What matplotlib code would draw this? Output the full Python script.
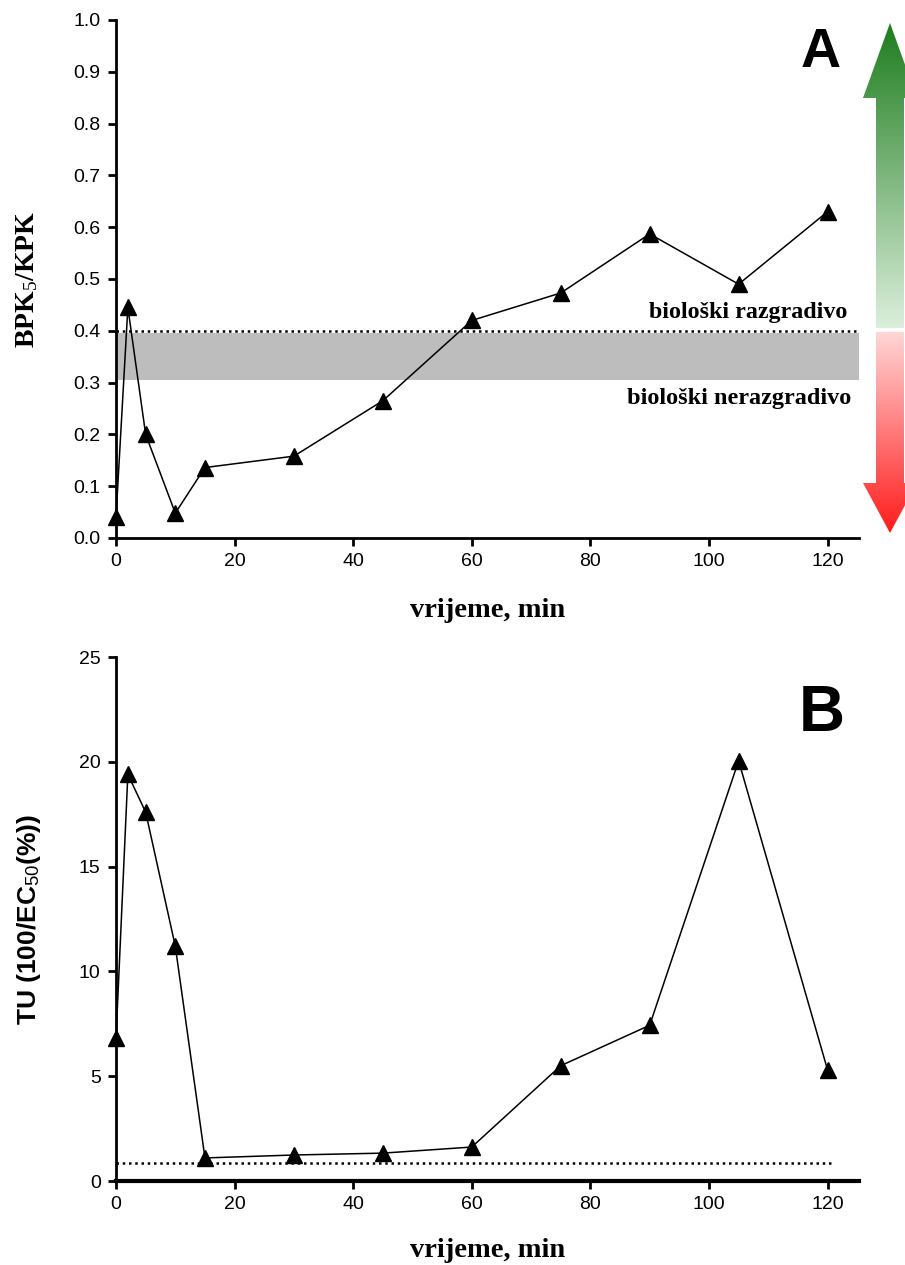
#!/usr/bin/env python3

import matplotlib
matplotlib.use("Agg")
import matplotlib.pyplot as plt
import numpy as np
from matplotlib.patches import Polygon

# data
vrijeme = [0, 2, 5, 10, 15, 30, 45, 60, 75, 90, 105, 120]
bpk_kpk = [0.04, 0.445, 0.20, 0.048, 0.136, 0.158, 0.265, 0.42, 0.473, 0.587, 0.49, 0.63]
tu = [6.8, 19.4, 17.6, 11.2, 1.1, 1.24, 1.33, 1.62, 5.5, 7.43, 20.05, 5.3]

granica_a = 0.40
pojas_a = (0.305, 0.395)
granica_b = 0.85

x_ticks = [0, 20, 40, 60, 80, 100, 120]
a_yticks = [0.0, 0.1, 0.2, 0.3, 0.4, 0.5, 0.6, 0.7, 0.8, 0.9, 1.0]
b_yticks = [0, 5, 10, 15, 20, 25]

serif = "Liberation Serif"
sans = "Liberation Sans"

plt.rcParams["mathtext.fontset"] = "custom"
plt.rcParams["mathtext.rm"] = serif
plt.rcParams["mathtext.it"] = serif + ":italic"
plt.rcParams["mathtext.sf"] = sans

W, H = 905, 1265
fig = plt.figure(figsize=(W / 100, H / 100), dpi=100)


def px_axes(left, top, right, bottom):
    return fig.add_axes([left / W, 1 - bottom / H, (right - left) / W, (bottom - top) / H])


def style_axes(ax, lw_bottom=2.0):
    for s in ["top", "right"]:
        ax.spines[s].set_visible(False)
    ax.spines["left"].set_linewidth(2.0)
    ax.spines["bottom"].set_linewidth(lw_bottom)
    ax.tick_params(direction="out", length=6, width=2, labelsize=14, pad=5)
    for lab in ax.get_xticklabels() + ax.get_yticklabels():
        lab.set_fontfamily(sans)


# ---------------- panel A ----------------
ax1 = px_axes(116, 20, 859, 538)
ax1.axhspan(pojas_a[0], pojas_a[1], color="#bdbdbd", lw=0, zorder=1)
ax1.axhline(granica_a, color="black", ls=(0, (1, 1.5)), lw=1.8, zorder=2)
ax1.plot(vrijeme, bpk_kpk, color="black", lw=1.1, marker="^", ms=12, zorder=3, clip_on=False)
ax1.set_xlim(0, 125.3)
ax1.set_ylim(0, 1.0)
ax1.set_xticks(x_ticks)
ax1.set_yticks(a_yticks)
ax1.set_yticklabels(["%.1f" % v for v in a_yticks])
style_axes(ax1)
ax1.set_xlabel("vrijeme, min", fontfamily=serif, fontweight="bold", fontsize=20.5, labelpad=20)
ax1.set_ylabel("BPK$_5$/KPK", fontfamily=serif, fontweight="bold", fontsize=20, labelpad=24)
ax1.text(0.985, 0.436, "biološki razgradivo", transform=ax1.transAxes, ha="right", va="center",
         fontfamily=serif, fontweight="bold", fontsize=17.3)
ax1.text(0.99, 0.27, "biološki nerazgradivo", transform=ax1.transAxes, ha="right", va="center",
         fontfamily=serif, fontweight="bold", fontsize=17.5)
ax1.text(0.948, 0.909, "A", transform=ax1.transAxes, ha="center", va="baseline",
         fontfamily=sans, fontweight="bold", fontsize=40)

# ---------------- gradient arrows ----------------
axa = px_axes(855, 15, 905, 545)
axa.set_xlim(855, 905)
axa.set_ylim(545, 15)
axa.axis("off")


def gradient_arrow(ax, tip, base, cx, c_tip, c_base):
    head = 75 if tip < base else -50
    hb = tip + head
    pts = [(cx, tip), (cx - 27, hb), (cx - 14, hb), (cx - 14, base),
           (cx + 14, base), (cx + 14, hb), (cx + 27, hb)]
    poly = Polygon(pts, closed=True, facecolor="none", edgecolor="none")
    ax.add_patch(poly)
    t = np.linspace(0, 1, 256)[:, None, None]
    ct = np.array(matplotlib.colors.to_rgb(c_tip))[None, None, :]
    cb = np.array(matplotlib.colors.to_rgb(c_base))[None, None, :]
    img = ct * (1 - t) + cb * t
    img = np.repeat(img, 2, axis=1)
    # row 0 sits at the "top" value of the extent, which is the tip
    im = ax.imshow(img, extent=[cx - 27, cx + 27, base, tip], origin="upper",
                   aspect="auto", interpolation="bilinear")
    im.set_clip_path(poly)


gradient_arrow(axa, 23, 328, 890, "#1e7d1e", "#dcefdc")
gradient_arrow(axa, 533, 332, 890, "#ff1c1c", "#ffd6d6")

# ---------------- panel B ----------------
ax2 = px_axes(116, 657, 859, 1181)
ax2.plot([0, 120.5], [granica_b, granica_b], color="black", ls=(0, (1, 1.5)), lw=1.8, zorder=2)
ax2.plot(vrijeme, tu, color="black", lw=1.1, marker="^", ms=12, zorder=3, clip_on=False)
ax2.set_xlim(0, 125.3)
ax2.set_ylim(0, 25)
ax2.set_xticks(x_ticks)
ax2.set_yticks(b_yticks)
style_axes(ax2, lw_bottom=3.0)
ax2.set_xlabel("vrijeme, min", fontfamily=serif, fontweight="bold", fontsize=20.5, labelpad=18)
ax2.set_ylabel("TU (100/EC$_{\\mathsf{50}}$(%))", fontfamily=sans, fontweight="bold", fontsize=19,
               labelpad=26)
ax2.text(0.95, 0.859, "B", transform=ax2.transAxes, ha="center", va="baseline",
         fontfamily=sans, fontweight="bold", fontsize=46)

plt.savefig("out.png", dpi=100)
plt.close()
